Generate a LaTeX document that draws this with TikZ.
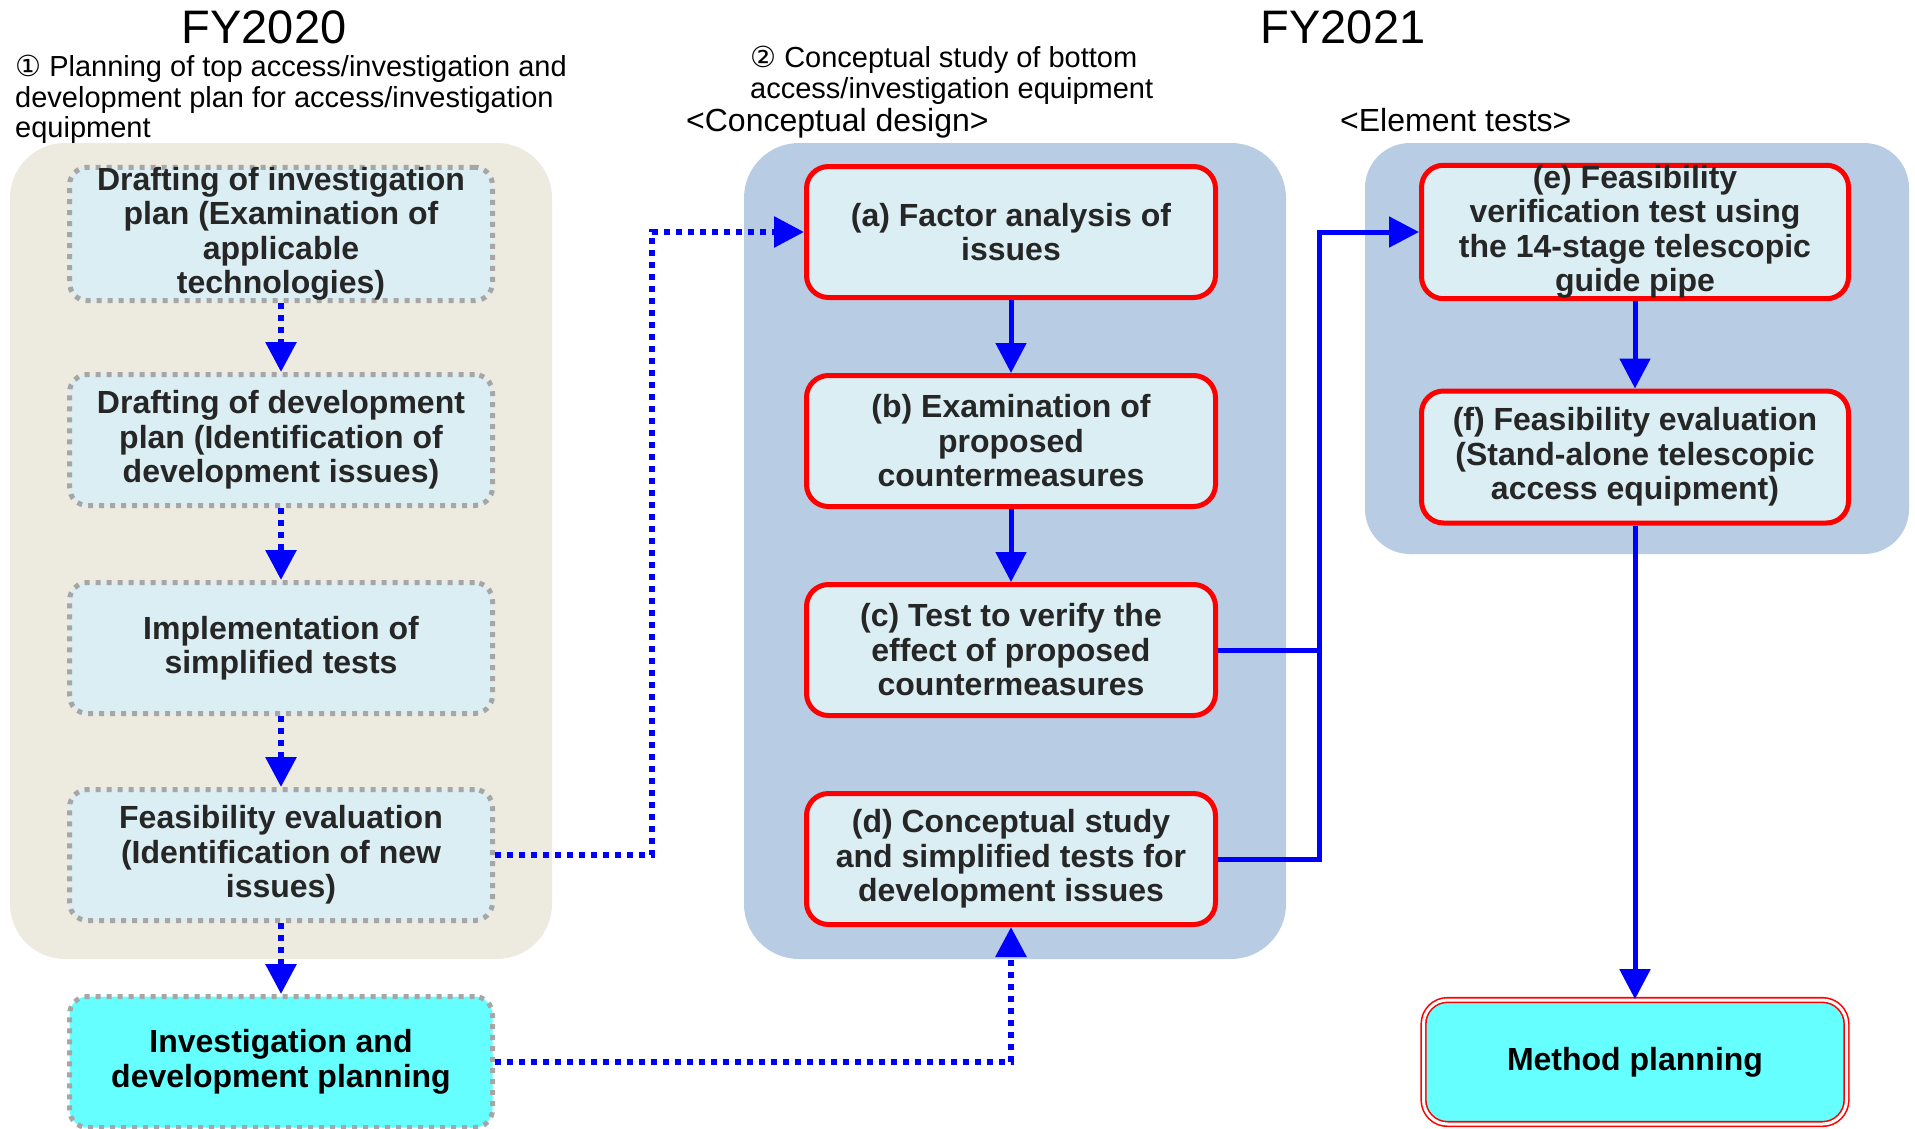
\documentclass[tikz,border=0pt]{standalone}
\usepackage{fontspec}
\setmainfont{Liberation Sans}
\newfontfamily\circfont{DejaVu Sans}
\usepackage{xcolor}
\usepackage{tikz}
\usetikzlibrary{arrows.meta}

\definecolor{beigebg}{RGB}{237,234,224}
\definecolor{panelblue}{RGB}{184,204,228}
\definecolor{boxblue}{RGB}{218,238,243}
\definecolor{cyanfill}{RGB}{102,255,255}
\definecolor{dotgray}{RGB}{166,166,166}
\definecolor{arrowblue}{RGB}{0,0,255}
\definecolor{textgray}{RGB}{38,38,38}

\begin{document}
\begin{tikzpicture}[
  x=1pt, y=-1pt,
  >={Triangle[length=30pt,width=30pt]},
  every node/.style={inner sep=0pt},
  yeartitle/.style={font=\fontsize{47}{50}\selectfont},
  notetext/.style={font=\fontsize{29}{30.5}\selectfont, align=left, anchor=north west},
  phasetext/.style={font=\fontsize{32}{34}\selectfont, anchor=base west},
  boxtext/.style={font=\bfseries\fontsize{32}{34.5}\selectfont, align=center, text=textgray},
  planbox/.style={boxtext, draw=dotgray, line width=5pt, dash pattern=on 5pt off 6pt,
    fill=boxblue, rounded corners=18pt, minimum width=423pt, minimum height=131pt},
  outcomebox/.style={planbox, fill=cyanfill, text=black},
  issuebox/.style={boxtext, draw=red, line width=5pt, fill=boxblue,
    rounded corners=22pt, minimum width=409pt, minimum height=131pt},
  testbox/.style={issuebox, minimum width=427pt, minimum height=132pt},
  methodbox/.style={boxtext, text=black, fill=cyanfill, draw=red, double=white,
    double distance=3pt, line width=1.6pt, rounded corners=24pt,
    minimum width=423pt, minimum height=124pt},
  dotflow/.style={->, arrowblue, line width=6pt, dash pattern=on 6pt off 6pt},
  solidflow/.style={->, arrowblue, line width=5pt},
  solidline/.style={arrowblue, line width=5pt},
]
\useasboundingbox (0,0) rectangle (1915,1128);

%%% Background panels %%%
\fill[beigebg, rounded corners=55pt] (10,143) rectangle (552,959);
\fill[panelblue, rounded corners=55pt] (744,143) rectangle (1286,959);
\fill[panelblue, rounded corners=45pt] (1365,143) rectangle (1909,554);

%%% Headings %%%
\node[yeartitle] (fy20) at (264,27) {FY2020};
\node[yeartitle] (fy21) at (1343,27) {FY2021};
\node[notetext] (note1) at (15,55)
  {{\circfont ①} Planning of top access/investigation and\\development plan for access/investigation\\equipment};
\node[notetext] (note2) at (750,46)
  {{\circfont ②} Conceptual study of bottom\\access/investigation equipment};
\node[phasetext] (design) at (686,131) {<Conceptual design>};
\node[phasetext] (element) at (1340,131) {<Element tests>};

%%% FY2020 column %%%
\node[planbox] (l1) at (281,234) {Drafting of investigation\\plan (Examination of\\applicable\\technologies)};
\node[planbox] (l2) at (281,440) {Drafting of development\\plan (Identification of\\development issues)};
\node[planbox] (l3) at (281,648) {Implementation of\\simplified tests};
\node[planbox] (l4) at (281,855) {Feasibility evaluation\\(Identification of new\\issues)};
\node[outcomebox] (l5) at (281,1062) {Investigation and\\development planning};

%%% Conceptual design column %%%
\node[issuebox] (ca) at (1011,232) {(a) Factor analysis of\\issues};
\node[issuebox] (cb) at (1011,441) {(b) Examination of\\proposed\\countermeasures};
\node[issuebox] (cc) at (1011,650) {(c) Test to verify the\\effect of proposed\\countermeasures};
\node[issuebox] (cd) at (1011,859) {(d) Conceptual study\\and simplified tests for\\development issues};

%%% Element tests column %%%
\node[testbox] (ce) at (1635,232) {(e) Feasibility\\verification test using\\the 14-stage telescopic\\guide pipe};
\node[testbox] (cf) at (1635,457) {(f) Feasibility evaluation\\(Stand-alone telescopic\\access equipment)};
\node[methodbox] (mp) at (1635,1062) {Method planning};

% Junction of (c) and (d) outputs
\coordinate (jr) at (1319,0);

%%% Connectors %%%
\foreach \a/\b in {l1/l2, l2/l3, l3/l4, l4/l5} {
  \draw[dotflow] (\a.south) -- (\b.north);
}
\draw[dotflow] (l4.east) -- ++(157,0) |- (ca.west);
\draw[dotflow] (l5.east) -| (cd.south);

\draw[solidflow] (ca.south) -- (cb.north);
\draw[solidflow] (cb.south) -- (cc.north);
\draw[solidline] (cc.east) -- (cc.east -| jr);
\draw[solidflow] (cd.east) -- (cd.east -| jr) |- (ce.west);
\draw[solidflow] (ce.south) -- (cf.north);
\draw[solidflow] (cf.south) -- (mp.north);

\end{tikzpicture}
\end{document}
